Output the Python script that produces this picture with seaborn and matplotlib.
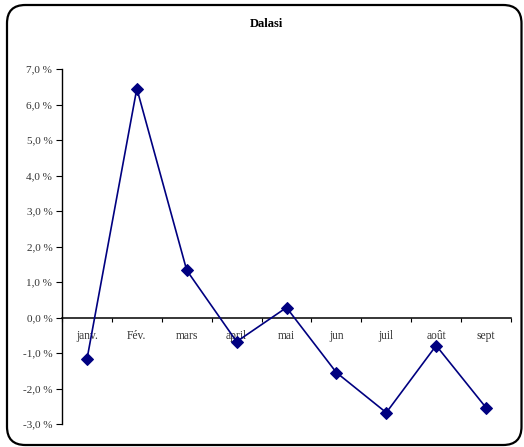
import matplotlib
matplotlib.use("Agg")
import matplotlib.pyplot as plt
import seaborn as sns
import pandas as pd
import numpy as np
from matplotlib.patches import FancyBboxPatch
from matplotlib.ticker import FixedLocator

months = ["janv.", "Fév.", "mars", "april", "mai", "jun", "juil", "août", "sept"]
values = [-1.18, 6.45, 1.33, -0.68, 0.28, -1.55, -2.68, -0.79, -2.54]
ytick_vals = [-3, -2, -1, 0, 1, 2, 3, 4, 5, 6, 7]
title = "Dalasi"

sns.set_theme(style="white")
plt.rcParams["font.family"] = ["Liberation Serif", "DejaVu Serif"]

W, H = 524, 447
fig = plt.figure(figsize=(W / 100, H / 100), dpi=100)

# rounded frame
frame = FancyBboxPatch((7 / W, 2 / H), 514.5 / W, 440 / H,
                       boxstyle="round,pad=0,rounding_size=0.035",
                       transform=fig.transFigure, fill=False,
                       edgecolor="black", linewidth=1.6, zorder=0,
                       mutation_aspect=W / H)
fig.patches.append(frame)

ax = fig.add_axes([62 / W, 1 - 424 / H, (511 - 62) / W, (424 - 69) / H])
df = pd.DataFrame({"x": np.arange(len(months)), "v": values})
sns.lineplot(data=df, x="x", y="v", ax=ax, color="#000080", linewidth=1.2,
             marker="D", markersize=6, markeredgecolor="#000080", zorder=5)

ax.set_xlim(-0.5, len(months) - 0.5)
ax.set_ylim(-3, 7)
ax.set_xlabel("")
ax.set_ylabel("")
ax.set_facecolor("none")

for s in ["top", "right"]:
    ax.spines[s].set_visible(False)
ax.spines["bottom"].set_position(("data", 0))
ax.spines["bottom"].set_color("black")
ax.spines["bottom"].set_linewidth(1.1)
ax.spines["left"].set_color("black")
ax.spines["left"].set_linewidth(1.0)

ax.set_yticks(ytick_vals)
ax.set_yticklabels([f"{v:.1f}".replace(".", ",") + " %" for v in ytick_vals],
                   fontsize=8, color="#333333")
ax.tick_params(axis="y", direction="out", length=4, width=0.8, color="black",
               left=True, pad=3)

ax.set_xticks(np.arange(len(months)))
ax.set_xticklabels(months, fontsize=8.3, color="#333333")
ax.xaxis.set_minor_locator(FixedLocator(np.arange(-0.5, len(months), 1.0)))
ax.tick_params(axis="x", which="major", length=0, pad=9)
ax.tick_params(axis="x", which="minor", direction="out", length=3, width=0.8,
               color="black", bottom=True)

fig.text(266 / W, 1 - 24 / H, title, ha="center", va="center",
         fontsize=9, fontweight="bold", color="black")

fig.savefig("out.png", dpi=100)
